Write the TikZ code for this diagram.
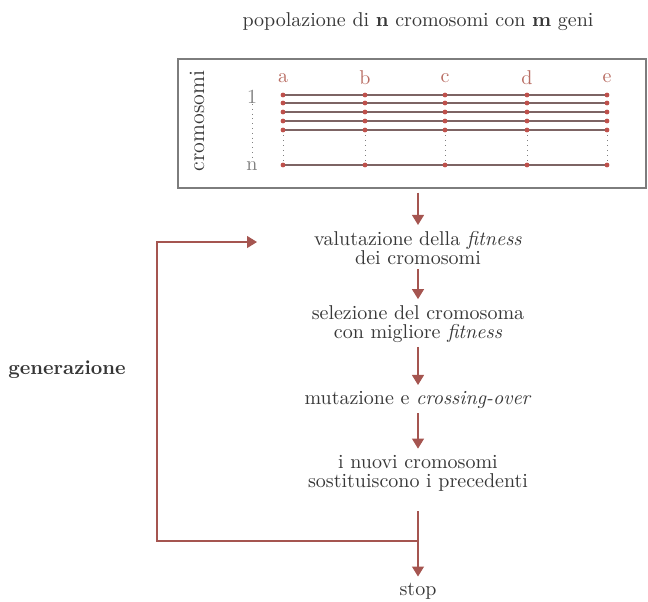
\documentclass[tikz,border=0pt]{standalone}
\usetikzlibrary{arrows.meta}

\definecolor{genered}{RGB}{190,80,75}
\definecolor{arrowred}{RGB}{165,85,80}
\definecolor{lettered}{RGB}{185,110,100}
\definecolor{lineg}{RGB}{125,100,100}
\definecolor{boxg}{RGB}{125,125,125}
\definecolor{textg}{RGB}{55,55,55}

\tikzset{
  txt/.style={align=center, text=textg, inner sep=0pt,
    font=\fontsize{10}{9.5}\selectfont},
  flow/.style={draw=arrowred, line width=0.6pt,
    -{Triangle[length=5pt,width=6pt]}, shorten <=2pt, shorten >=3pt},
  gene/.style={circle, fill=genered, inner sep=0pt, minimum size=2.4pt},
  chrom/.style={draw=lineg, line width=0.6pt},
  locus/.style={text=lettered, font=\fontsize{10}{10}\selectfont},
}

\begin{document}
\begin{tikzpicture}[x=0.5pt, y=-0.5pt]
  \useasboundingbox (0,0) rectangle (648,601);

  % population
  \node (title) [txt] at (418,22)
    {popolazione di \textbf{n} cromosomi con \textbf{m} geni};
  \node (pop) [draw=boxg, line width=0.8pt, anchor=north west,
    minimum width=234pt, minimum height=64.5pt, inner sep=0pt] at (177,58) {};
  \node (crom) [txt, rotate=90, font=\fontsize{11}{11}\selectfont] at (197,121) {cromosomi};
  \node (first) [txt, text=gray] at (252,97) {1};
  \node (last) [txt, text=gray] at (252,166) {n};
  \draw [dotted, gray] (first) -- (last);

  \foreach \g/\x in {a/283, b/365, c/445, d/527, e/607} {
    \node (\g) [locus] at (\x,78) {\g};
    \draw [dotted, gray, line width=0.5pt] (\x,130) -- (\x,165);
  }
  \foreach \y in {95, 103, 112, 121, 130, 165} {
    \draw [chrom] (282,\y) -- (608,\y);
    \foreach \x in {283, 365, 445, 527, 607}
      \node [gene] at (\x,\y) {};
  }

  % steps
  \node (eval) [txt] at (418,248) {valutazione della \textit{fitness}\\dei cromosomi};
  \node (sel) [txt] at (418,324) {selezione del cromosoma\\con migliore \textit{fitness}};
  \node (mut) [txt] at (418,400) {mutazione e \textit{crossing-over}};
  \node (repl) [txt] at (418,473) {i nuovi cromosomi\\sostituiscono i precedenti};
  \node (stop) [txt] at (418,591) {stop};
  \node (gen) [txt, font=\fontsize{10}{10}\selectfont\bfseries] at (67,370) {generazione};

  \coordinate (join) at (418,541);
  \coordinate (turn) at (157,242);
  \coordinate (loopin) at (257,242);

  \draw [flow] (pop.south -| eval.north) -- (eval);
  \draw [flow] (eval) -- (sel);
  \draw [flow] (sel) -- (mut);
  \draw [flow] (mut) -- (repl);
  \draw [flow, shorten <=10pt] (repl) -- (stop);
  \draw [flow, shorten <=0pt, shorten >=0pt] (join) -| (turn) -- (loopin);
\end{tikzpicture}
\end{document}
